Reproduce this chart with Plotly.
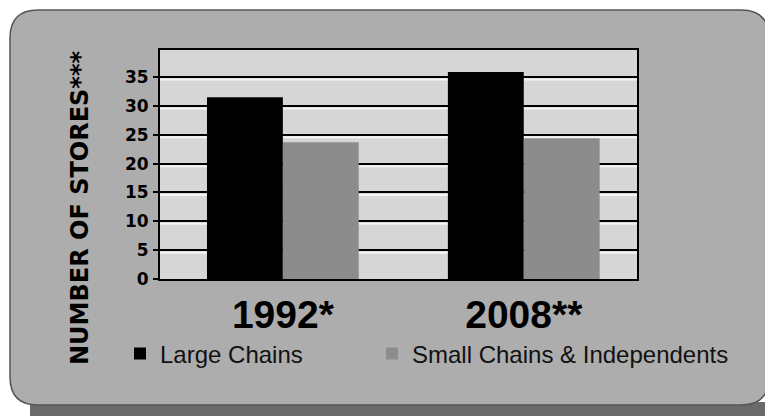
import plotly.graph_objects as go

categories = ["1992*", "2008**"]
large_chains = [31.5, 35.9]
small_chains = [23.7, 24.4]
y_ticks = [0, 5, 10, 15, 20, 25, 30, 35]
series_names = ["Large Chains", "Small Chains & Independents"]
y_title = "NUMBER OF STORES***"

# the page body adds an 8px offset, so the figure is 8px smaller
OFF = 8
W, H = 773 - OFF, 416 - OFF
PLOT_L, PLOT_R, PLOT_T, PLOT_B = 160, 637, 50, 279  # screen px
L = PLOT_L - OFF
T = PLOT_T - OFF
PW = PLOT_R - PLOT_L
PH = PLOT_B - PLOT_T
R = W - L - PW
B = H - T - PH


def px(sx):
    return (sx - PLOT_L) / PW


def py(sy):
    return (PLOT_B - sy) / PH


def cx(sx):
    return (sx - OFF) / W


def cy(sy):
    return 1 - (sy - OFF) / H


fig = go.Figure()
fig.add_trace(go.Bar(x=categories, y=large_chains, name=series_names[0],
                     marker=dict(color="#000000", line=dict(width=0)), legend="legend"))
fig.add_trace(go.Bar(x=categories, y=small_chains, name=series_names[1],
                     marker=dict(color="#8c8c8c", line=dict(width=0)), legend="legend2"))

# rounded panel
x0, y0, x1, y1, r = 10, 10, 769, 405, 28
pts = [
    ("M", (x0 + r, y0)),
    ("L", (x1 - r, y0)),
    ("Q", (x1, y0), (x1, y0 + r)),
    ("L", (x1, y1 - r)),
    ("Q", (x1, y1), (x1 - r, y1)),
    ("L", (x0 + r, y1)),
    ("Q", (x0, y1), (x0, y1 - r)),
    ("L", (x0, y0 + r)),
    ("Q", (x0, y0), (x0 + r, y0)),
]
path = ""
for p in pts:
    cmd = p[0]
    coords = " ".join(f"{px(a):.5f},{py(b):.5f}" for a, b in p[1:])
    path += f"{cmd}{coords} "
path += "Z"

shapes = [
    dict(type="rect", xref="paper", yref="paper", x0=px(30), x1=px(773), y0=py(402), y1=py(416),
         fillcolor="#6a6a6a", line=dict(width=0), layer="below"),
    dict(type="path", xref="paper", yref="paper", path=path,
         fillcolor="#adadad", line=dict(color="#555555", width=1.5), layer="below"),
    dict(type="rect", xref="paper", yref="paper", x0=0, x1=1, y0=0, y1=1,
         fillcolor="#d6d6d6", line=dict(width=0), layer="below"),
]
# light highlight just below each grid line
for v in y_ticks[1:]:
    shapes.append(dict(type="line", xref="paper", x0=0, x1=1, yref="y",
                       ysizemode="pixel", yanchor=v, y0=-2.5, y1=-2.5,
                       line=dict(color="#f4f4f4", width=2), layer="below"))

legend_font = dict(family="Liberation Sans, Arial, sans-serif", size=24, color="#111111")
legend_common = dict(orientation="h", xref="container", yref="container",
                     xanchor="left", yanchor="middle", bgcolor="rgba(0,0,0,0)",
                     font=legend_font, itemsizing="constant")

fig.update_layout(
    width=W, height=H,
    margin=dict(l=L, r=R, t=T, b=B, pad=0, autoexpand=False),
    paper_bgcolor="white",
    plot_bgcolor="rgba(0,0,0,0)",
    barmode="group",
    bargap=0.37,
    bargroupgap=0,
    shapes=shapes,
    showlegend=True,
    legend=dict(x=cx(120), y=cy(354), **legend_common),
    legend2=dict(x=cx(372), y=cy(354), **legend_common),
    xaxis=dict(
        range=[-0.51, 1.47], showgrid=False, zeroline=False,
        showline=True, linecolor="black", linewidth=2, mirror=True,
        ticks="", ticklabelstandoff=0,
        tickfont=dict(family="Liberation Sans, Arial, sans-serif", size=39,
                      color="black", weight="bold"),
    ),
    yaxis=dict(
        range=[0, 39.7], tickvals=y_ticks, showgrid=True, gridcolor="black", gridwidth=2,
        zeroline=False, showline=True, linecolor="black", linewidth=2, mirror=True,
        ticks="outside", ticklen=5, tickwidth=2, tickcolor="black", ticklabelstandoff=1,
        tickfont=dict(family="DejaVu Sans, sans-serif", size=17, color="black", weight="bold"),
    ),
    annotations=[
        dict(text=y_title, xref="paper", yref="paper", x=px(80), y=py(208),
             textangle=-90, showarrow=False, xanchor="center", yanchor="middle",
             font=dict(family="DejaVu Sans, sans-serif", size=24, color="black", weight="bold")),
    ],
)

fig.write_html("out.html")
